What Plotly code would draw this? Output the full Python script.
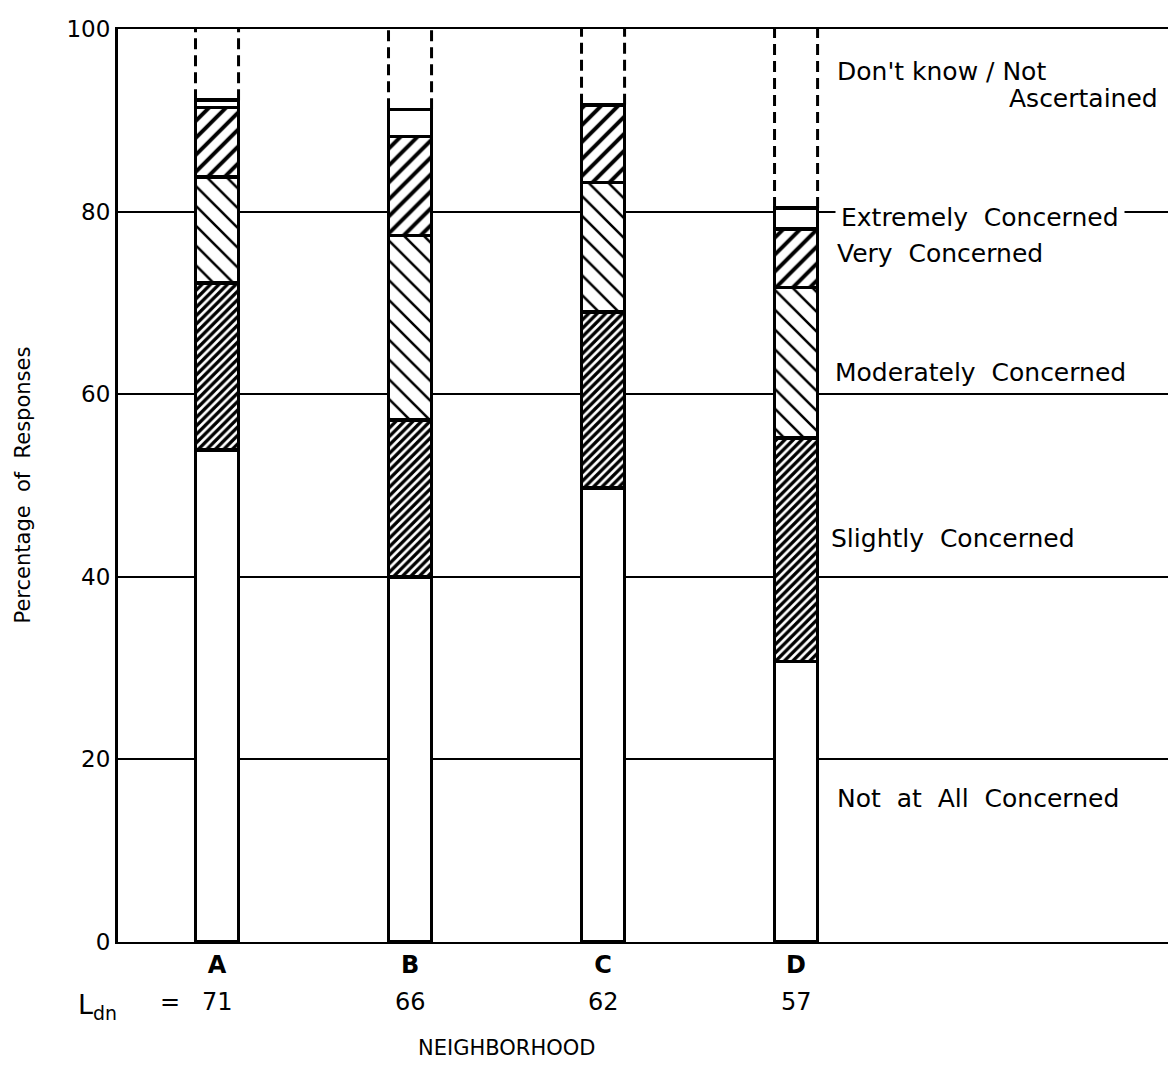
import plotly.graph_objects as go

# ---- data (percent of responses) ----
neighborhoods = ["A", "B", "C", "D"]
ldn_values = ["71", "66", "62", "57"]
not_at_all = [53.9, 40.0, 49.7, 30.7]
slightly = [18.3, 17.2, 19.3, 24.5]
moderately = [11.6, 20.2, 14.2, 16.5]
very = [7.6, 10.8, 8.5, 6.4]
extremely = [0.8, 3.0, 0.0, 2.3]
y_ticks = [0, 20, 40, 60, 80, 100]

FONT = "DejaVu Sans"
BAR_W = 0.223
xs = list(range(len(neighborhoods)))

series = [
    ("Not at All Concerned", not_at_all, None),
    ("Slightly Concerned", slightly, dict(shape="/", size=6, solidity=0.55, fgcolor="black",
                                          bgcolor="white", fgopacity=1)),
    ("Moderately Concerned", moderately, dict(shape="\\", size=14, solidity=0.18, fgcolor="black",
                                              bgcolor="white", fgopacity=1)),
    ("Very Concerned", very, dict(shape="/", size=12, solidity=0.33, fgcolor="black",
                                  bgcolor="white", fgopacity=1)),
    ("Extremely Concerned", extremely, None),
]

fig = go.Figure()
for name, vals, pat in series:
    marker = dict(color="white", line=dict(color="black", width=3.5))
    if pat:
        marker["pattern"] = pat
    fig.add_trace(go.Bar(x=xs, y=vals, name=name, width=BAR_W, marker=marker,
                         showlegend=False, hoverinfo="name+y"))

# dashed outline for "Don't know / Not Ascertained" (remainder up to 100)
for i in xs:
    top = not_at_all[i] + slightly[i] + moderately[i] + very[i] + extremely[i]
    lx, rx = i - BAR_W / 2, i + BAR_W / 2
    fig.add_trace(go.Scatter(
        x=[lx, lx, None, rx, rx], y=[top, 100, None, top, 100], mode="lines",
        line=dict(color="black", width=3, dash="11px,6px"),
        showlegend=False, hoverinfo="skip"))

fig.update_layout(
    barmode="stack",
    width=1168, height=1066,
    margin=dict(l=118, r=0, t=29, b=124),
    paper_bgcolor="white", plot_bgcolor="white",
    font=dict(family=FONT, color="black", size=20),
    xaxis=dict(range=[-0.513, 4.927], tickvals=xs,
               ticktext=["<b>%s</b>" % n for n in neighborhoods],
               tickfont=dict(size=24, family=FONT),
               showgrid=False, zeroline=False, showline=True, linecolor="black",
               linewidth=2, mirror=True, ticks=""),
    yaxis=dict(range=[0, 100], tickvals=y_ticks, ticks="", showgrid=True,
               gridcolor="black", gridwidth=1.8, zeroline=False, showline=True,
               linecolor="black", linewidth=3, tickfont=dict(size=23)),
)

def ypx(py):
    return (942 - py) / 9.13

label_font = dict(size=25, family=FONT)
labels = [
    ("Don't know / Not", 3.20, ypx(71), "left", False),
    ("Ascertained", 4.885, ypx(98), "right", False),
    ("Extremely  Concerned", 3.20, ypx(217), "left", True),
    ("Very  Concerned", 3.20, ypx(253), "left", False),
    ("Moderately  Concerned", 3.19, ypx(372), "left", False),
    ("Slightly  Concerned", 3.17, ypx(538), "left", False),
    ("Not  at  All  Concerned", 3.20, ypx(798), "left", False),
]
for txt, x, y, anchor, bg in labels:
    kw = dict(bgcolor="white", borderpad=5) if bg else {}
    fig.add_annotation(x=x, y=y, xref="x", yref="y", text=txt, showarrow=False,
                       xanchor=anchor, yanchor="middle", font=label_font, **kw)

# L_dn row
for i, v in zip(xs, ldn_values):
    fig.add_annotation(x=i, y=-0.066, xref="x", yref="paper", text=v,
                       showarrow=False, font=dict(size=24), yanchor="middle")
fig.add_annotation(x=(76 - 118) / 1050, y=-0.071, xref="paper", yref="paper",
                   text="L<sub>dn</sub>", showarrow=False, font=dict(size=27),
                   xanchor="left", yanchor="middle")
fig.add_annotation(x=(158 - 118) / 1050, y=-0.066, xref="paper", yref="paper",
                   text="=", showarrow=False, font=dict(size=24),
                   xanchor="left", yanchor="middle")
fig.add_annotation(x=1.5, y=-0.116, xref="x", yref="paper", text="NEIGHBORHOOD",
                   showarrow=False, font=dict(size=21), yanchor="middle")
fig.add_annotation(x=(22 - 118) / 1050, y=0.5, xref="paper", yref="paper",
                   text="Percentage  of  Responses", textangle=-90, showarrow=False,
                   font=dict(size=21), xanchor="center", yanchor="middle")

fig.write_html("out.html", config={"displayModeBar": False},
               post_script="document.body.style.margin='0';")
